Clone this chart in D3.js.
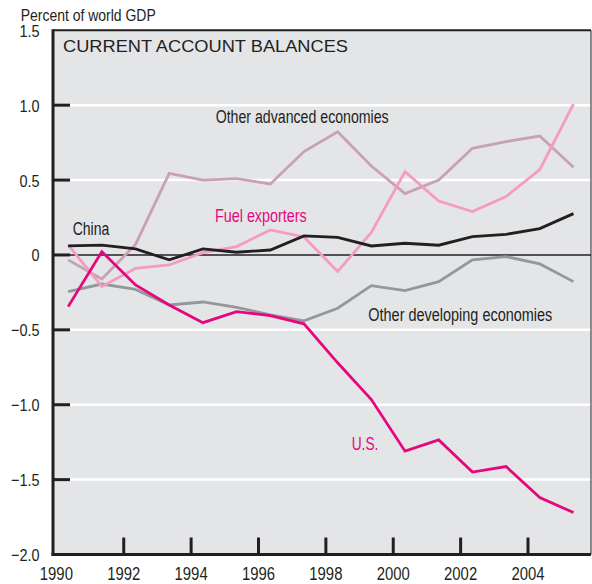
<!DOCTYPE html>
<html><head><meta charset="utf-8">
<script src="https://cdn.jsdelivr.net/npm/d3@7"></script>
<style>
html,body{margin:0;padding:0;background:#fff;}
svg text{font-family:"Liberation Sans",Arial,sans-serif;}
</style></head>
<body><svg id="c" width="592" height="584"></svg>
<script>
const years = [1990,1991,1992,1993,1994,1995,1996,1997,1998,1999,2000,2001,2002,2003,2004,2005];
const china = [0.06,0.065,0.04,-0.033,0.04,0.018,0.033,0.127,0.118,0.06,0.078,0.065,0.122,0.138,0.176,0.276];
const otherAdvanced = [-0.033,-0.16,0.07,0.545,0.50,0.51,0.474,0.69,0.823,0.594,0.41,0.50,0.712,0.757,0.794,0.585];
const fuelExporters = [0.067,-0.21,-0.09,-0.067,0.015,0.056,0.167,0.12,-0.11,0.15,0.556,0.36,0.29,0.39,0.57,1.008];
const otherDeveloping = [-0.245,-0.194,-0.23,-0.334,-0.314,-0.35,-0.40,-0.44,-0.356,-0.205,-0.238,-0.178,-0.033,-0.011,-0.06,-0.178];
const us = [-0.345,0.022,-0.2,-0.334,-0.452,-0.378,-0.405,-0.46,-0.72,-0.965,-1.31,-1.235,-1.45,-1.413,-1.62,-1.72];
const yTicks = [1.5,1.0,0.5,0,-0.5,-1.0,-1.5,-2.0];
const yTickLabels = ["1.5","1.0","0.5","0","\u22120.5","\u22121.0","\u22121.5","\u22122.0"];
const xTicks = [1990,1992,1994,1996,1998,2000,2002,2004];

const svg = d3.select("#c");
const L=53, R=591, T=30.3, B=554.5;
const x = d3.scaleLinear().domain([1989.9,2005.87]).range([L,R]);
const y = d3.scaleLinear().domain([-2,1.5]).range([B,T]);
const off = 0.35; // points plotted mid-year

function cond(sel, f){
  sel.each(function(){
    const w = this.getComputedTextLength();
    d3.select(this).attr("textLength", w*f).attr("lengthAdjust","spacingAndGlyphs");
  });
}

svg.append("rect").attr("x",L).attr("y",T).attr("width",R-L).attr("height",B-T).attr("fill","#e4e5e7");
// grid
svg.selectAll(".g").data(yTicks.filter(d=>d!==0 && d!==-2 && d!==1.5)).enter().append("line")
  .attr("x1",L).attr("x2",R).attr("y1",d=>y(d)).attr("y2",d=>y(d)).attr("stroke","#fff").attr("stroke-width",2.5);
// zero
svg.append("line").attr("x1",L).attr("x2",R).attr("y1",y(0)).attr("y2",y(0)).attr("stroke","#231f20").attr("stroke-width",1.5);

const series = [
  {v:otherDeveloping,c:"#96979a"},
  {v:otherAdvanced,c:"#c9a1b5"},
  {v:fuelExporters,c:"#f59bc2"},
  {v:china,c:"#231f20"},
  {v:us,c:"#e6077f"}
];
const line = d3.line().x((d,i)=>x(years[i]+off)).y(d=>y(d));
series.forEach(s=>{
  svg.append("path").datum(s.v).attr("d",line).attr("fill","none").attr("stroke",s.c).attr("stroke-width",2.8).attr("stroke-linejoin","miter");
});

// frame
svg.append("line").attr("x1",L).attr("x2",R).attr("y1",T).attr("y2",T).attr("stroke","#231f20").attr("stroke-width",2);
svg.append("line").attr("x1",R).attr("x2",R).attr("y1",T).attr("y2",B).attr("stroke","#231f20").attr("stroke-width",1);
svg.append("line").attr("x1",L).attr("x2",L).attr("y1",T-1).attr("y2",B+1.5).attr("stroke","#231f20").attr("stroke-width",3);
svg.append("line").attr("x1",L-1.5).attr("x2",R).attr("y1",B).attr("y2",B).attr("stroke","#231f20").attr("stroke-width",3);

// y ticks
svg.selectAll(".yt").data(yTicks.filter(d=>d!==1.5 && d!==-2)).enter().append("line")
  .attr("x1",L).attr("x2",L+17).attr("y1",d=>y(d)).attr("y2",d=>y(d)).attr("stroke","#231f20").attr("stroke-width",3);
svg.selectAll(".yl").data(yTicks).enter().append("text")
  .attr("x",39.5).attr("y",d=>y(d)+6.5).attr("text-anchor","end").attr("font-size",17).attr("fill","#231f20")
  .text((d,i)=>yTickLabels[i]).call(cond,0.85);
// x ticks
svg.selectAll(".xt").data(xTicks.filter(d=>d!==1990)).enter().append("line")
  .attr("x1",d=>x(d)).attr("x2",d=>x(d)).attr("y1",B).attr("y2",B-17).attr("stroke","#231f20").attr("stroke-width",3);
svg.selectAll(".xl").data(xTicks).enter().append("text")
  .attr("x",d=>x(d)).attr("y",580).attr("text-anchor","middle").attr("font-size",17.5).attr("fill","#231f20")
  .text(d=>d).call(cond,0.85);

svg.append("text").attr("x",20.7).attr("y",20.5).attr("font-size",16.5).attr("fill","#231f20")
  .text("Percent of world GDP").attr("textLength",135).attr("lengthAdjust","spacingAndGlyphs");
svg.append("text").attr("x",63).attr("y",51.7).attr("font-size",17).attr("fill","#231f20")
  .text("CURRENT ACCOUNT BALANCES").attr("textLength",285).attr("lengthAdjust","spacingAndGlyphs");

const labels = [
  {t:"Other advanced economies",x:215.7,y:123,w:173,c:"#231f20"},
  {t:"Fuel exporters",x:215,y:221.7,w:91.7,c:"#e6077f"},
  {t:"China",x:72.7,y:234.5,w:36.6,c:"#231f20"},
  {t:"Other developing economies",x:368.3,y:320.5,w:184,c:"#231f20"},
  {t:"U.S.",x:351.7,y:449.5,w:26.7,c:"#e6077f"}
];
labels.forEach(l=>{
  svg.append("text").attr("x",l.x).attr("y",l.y).attr("font-size",18).attr("fill",l.c)
    .attr("textLength",l.w).attr("lengthAdjust","spacingAndGlyphs").text(l.t);
});
</script></body></html>
